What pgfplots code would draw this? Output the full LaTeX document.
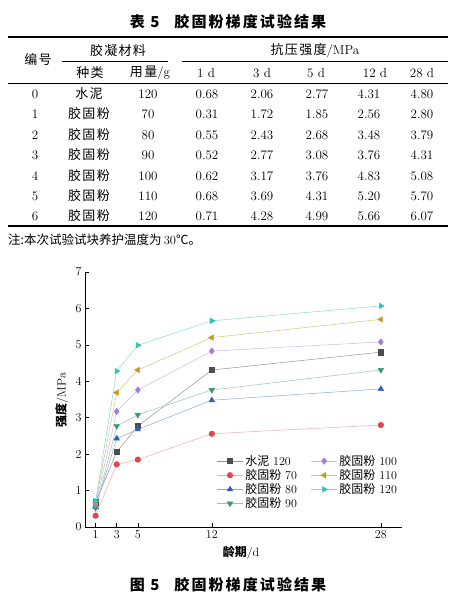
\documentclass[border=0pt]{standalone}
\usepackage{fontspec}
\usepackage{pgfplots}
\pgfplotsset{compat=1.18}
\newfontfamily\cjk{Noto Sans CJK SC}
\newfontfamily\cjks[LetterSpace=10]{Noto Sans CJK SC}
\newfontfamily\cjkt[LetterSpace=14]{Noto Sans CJK SC}
\newcommand\fs[1]{\fontsize{#1}{#1}\selectfont}
\definecolor{cA}{HTML}{4D4D4D}
\definecolor{cB}{HTML}{E0474C}
\definecolor{cC}{HTML}{2A62C4}
\definecolor{cD}{HTML}{3A9A6E}
\definecolor{cE}{HTML}{A77BD6}
\definecolor{cF}{HTML}{C99A1E}
\definecolor{cG}{HTML}{33BFC4}
\begin{document}
\begin{tikzpicture}
\path[use as bounding box, fill=white] (0,0) rectangle (460pt,-599pt);
% ---------- table ----------
\node[font=\fs{15}\cjkt\bfseries] at (228pt,-22pt) {表\ 5\quad 胶固粉梯度试验结果};
\draw[line width=1.3pt] (8pt,-37pt) -- (448pt,-37pt);
\draw[line width=0.7pt] (62pt,-61pt) -- (168pt,-61pt);
\draw[line width=0.7pt] (182pt,-61pt) -- (448pt,-61pt);
\draw[line width=0.8pt] (8pt,-83pt) -- (448pt,-83pt);
\draw[line width=1.3pt] (8pt,-226pt) -- (448pt,-226pt);
\node[font=\fs{13}\cjks] at (38pt,-60pt) {编号};
\node[font=\fs{13}\cjks] at (118pt,-51pt) {胶凝材料};
\node[font=\fs{13}] at (315pt,-51pt) {{\cjks 抗压强度}/MPa};
\node[font=\fs{13}\cjks] at (90pt,-73pt) {种类};
\node[font=\fs{13}] at (150pt,-73pt) {{\cjks 用量}/g};
\foreach \x/\t in {206/1\ d,262/3\ d,316/5\ d,375/12\ d,422/28\ d}
  \node[font=\fs{13}] at (\x pt,-73pt) {\t};
\foreach \y/\n/\k/\m/\a/\b/\c/\d/\e in {
  94/0/水泥/120/0.68/2.06/2.77/4.31/4.80,
  114/1/胶固粉/70/0.31/1.72/1.85/2.56/2.80,
  135/2/胶固粉/80/0.55/2.43/2.68/3.48/3.79,
  155/3/胶固粉/90/0.52/2.77/3.08/3.76/4.31,
  176/4/胶固粉/100/0.62/3.17/3.76/4.83/5.08,
  196/5/胶固粉/110/0.68/3.69/4.31/5.20/5.70,
  216/6/胶固粉/120/0.71/4.28/4.99/5.66/6.07}{
  \node[font=\fs{13}] at (35pt,-\y pt) {\n};
  \node[font=\fs{13}\cjks] at (89pt,-\y pt) {\k};
  \node[font=\fs{13}] at (148pt,-\y pt) {\m};
  \node[font=\fs{13}] at (207pt,-\y pt) {\a};
  \node[font=\fs{13}] at (262pt,-\y pt) {\b};
  \node[font=\fs{13}] at (317pt,-\y pt) {\c};
  \node[font=\fs{13}] at (369pt,-\y pt) {\d};
  \node[font=\fs{13}] at (422pt,-\y pt) {\e};
}
\node[font=\fs{12.5}, anchor=west, inner sep=0pt] at (8pt,-240pt) {{\cjk 注:本次试验试块养护温度为}\,30{\cjk ℃。}};
% ---------- chart ----------
\begin{axis}[
  at={(85pt,-527pt)}, anchor=south west,
  scale only axis, width=317pt, height=255pt,
  xmin=0, xmax=30, ymin=0, ymax=7,
  axis lines=left, axis line style={-, line width=0.8pt},
  xtick={1,3,5,12,28}, ytick={0,1,...,7},
  tick align=inside, major tick length=4pt,
  tick style={line width=0.6pt, black},
  tick label style={font=\fs{13}},
  clip=false,
  every axis plot/.append style={line width=0.5pt},
  legend image code/.code={\draw[mark repeat=2,mark phase=2,#1] plot coordinates {(0pt,0pt) (13pt,0pt) (26pt,0pt)};},
  legend style={at={(0.415,0.29)}, anchor=north west, draw=none, fill=none,
    font=\fs{12}, row sep=-1.5pt, inner sep=0pt,
    /tikz/every even column/.append style={column sep=12pt}},
  legend cell align=left, legend columns=4, transpose legend,
]
\addplot[color=cA!60, mark=square*, mark size=2.6pt, mark options={fill=cA, draw=cA}] coordinates {(1,0.68) (3,2.06) (5,2.77) (12,4.31) (28,4.80)};
\addlegendentry{{\cjk 水泥} 120}
\addplot[color=cB!45, mark=*, mark size=2.8pt, mark options={fill=cB, draw=cB}] coordinates {(1,0.31) (3,1.72) (5,1.85) (12,2.56) (28,2.80)};
\addlegendentry{{\cjk 胶固粉} 70}
\addplot[color=cC!55, mark=triangle*, mark size=3.2pt, mark options={fill=cC, draw=cC}] coordinates {(1,0.55) (3,2.43) (5,2.68) (12,3.48) (28,3.79)};
\addlegendentry{{\cjk 胶固粉} 80}
\addplot[color=cD!55, mark=triangle*, mark size=3.2pt, mark options={fill=cD, draw=cD, rotate=180}] coordinates {(1,0.52) (3,2.77) (5,3.08) (12,3.76) (28,4.31)};
\addlegendentry{{\cjk 胶固粉} 90}
\addplot[color=cE!55, mark=diamond*, mark size=3.2pt, mark options={fill=cE, draw=cE}] coordinates {(1,0.62) (3,3.17) (5,3.76) (12,4.83) (28,5.08)};
\addlegendentry{{\cjk 胶固粉} 100}
\addplot[color=cF!60, mark=triangle*, mark size=3.2pt, mark options={fill=cF, draw=cF, rotate=90}] coordinates {(1,0.68) (3,3.69) (5,4.31) (12,5.20) (28,5.70)};
\addlegendentry{{\cjk 胶固粉} 110}
\addplot[color=cG!60, mark=triangle*, mark size=3.2pt, mark options={fill=cG, draw=cG, rotate=-90}] coordinates {(1,0.71) (3,4.28) (5,4.99) (12,5.66) (28,6.07)};
\addlegendentry{{\cjk 胶固粉} 120}
\end{axis}
\node[font=\fs{12}] at (241pt,-553pt) {{\cjk\bfseries 龄期}/d};
\node[font=\fs{12}, rotate=90] at (62pt,-400pt) {{\cjk\bfseries 强度}/MPa};
\node[font=\fs{15}\cjkt\bfseries] at (228pt,-585pt) {图\ 5\quad 胶固粉梯度试验结果};
\end{tikzpicture}
\end{document}
